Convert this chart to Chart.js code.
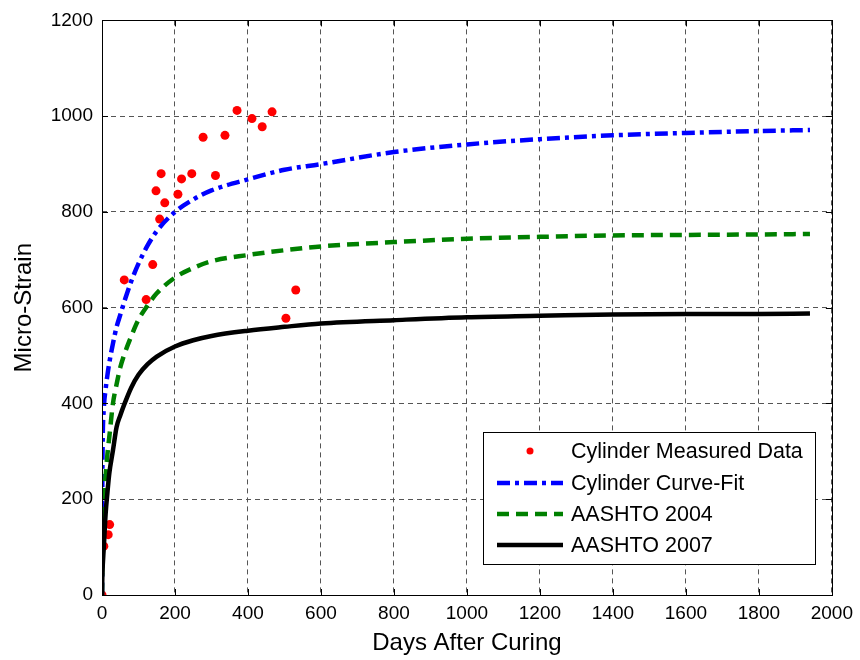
<!DOCTYPE html>
<html>
<head>
<meta charset="utf-8">
<script src="https://cdn.jsdelivr.net/npm/chart.js@4.4.0/dist/chart.umd.min.js"></script>
<style>
  body { margin: 0; background: #fff; }
  canvas { display: block; }
</style>
</head>
<body>
<canvas id="strainChart" width="860" height="660"></canvas>
<script>
// measured cylinder strain (days, micro-strain)
const measuredDays = [0, 2, 5, 17, 21, 61, 121, 139, 148, 158, 162, 172, 208, 218, 246, 277, 311, 337, 370, 411, 439, 466, 504, 531];
const measuredStrain = [0, 182, 102, 126, 147, 658, 617, 690, 844, 785, 880, 819, 837, 869, 880, 956, 876, 960, 1012, 995, 978, 1009, 578, 637];

// curves at these days
const curveDays = [0, 1, 5, 10, 15, 20, 30, 40, 50, 60, 80, 100, 125, 150, 200, 250, 300, 400, 500, 600, 800, 1000, 1200, 1400, 1600, 1800, 1940];
const curveFit = [0, 250, 390, 430, 460, 485, 525, 560, 585, 610, 655, 692, 730, 760, 800, 826, 845, 868, 888, 900, 925, 941, 952, 960, 965, 969, 971];
const aashto2004 = [0, 120, 200, 250, 295, 330, 400, 440, 475, 500, 540, 575, 605, 630, 663, 683, 697, 710, 720, 728, 737, 744, 748, 751, 752, 753, 754];
const aashto2007 = [0, 40, 100, 170, 215, 254, 302, 351, 375, 396, 433, 460, 482, 498, 519, 532, 541, 552, 560, 567, 574, 580, 583, 586, 587, 587, 588];

const xTicks = [0, 200, 400, 600, 800, 1000, 1200, 1400, 1600, 1800, 2000];
const yTicks = [0, 200, 400, 600, 800, 1000, 1200];

const FONT = 'Liberation Sans, Arial, sans-serif';

function toPoints(xs, ys) {
    return xs.map((x, i) => ({ x: x, y: ys[i] }));
}

// frame with inward ticks on all four sides, like matlab
const framePlugin = {
    id: 'frame',
    afterDatasetsDraw(chart) {
        const ctx = chart.ctx;
        const a = chart.chartArea;
        const xs = chart.scales.x;
        const ys = chart.scales.y;
        const len = 6;
        ctx.save();
        ctx.strokeStyle = '#000';
        ctx.lineWidth = 1;
        ctx.beginPath();
        xTicks.forEach(v => {
            const px = Math.round(xs.getPixelForValue(v)) + 0.5;
            ctx.moveTo(px, a.bottom); ctx.lineTo(px, a.bottom - len);
            ctx.moveTo(px, a.top); ctx.lineTo(px, a.top + len);
        });
        yTicks.forEach(v => {
            const py = Math.round(ys.getPixelForValue(v)) + 0.5;
            ctx.moveTo(a.left, py); ctx.lineTo(a.left + len, py);
            ctx.moveTo(a.right, py); ctx.lineTo(a.right - len, py);
        });
        ctx.stroke();
        ctx.strokeRect(Math.round(a.left) + 0.5, Math.round(a.top) + 0.5,
            Math.round(a.right - a.left), Math.round(a.bottom - a.top));
        ctx.restore();
    }
};

// legend box inside the plot, lower right
const legendPlugin = {
    id: 'boxLegend',
    afterDraw(chart) {
        const ctx = chart.ctx;
        const box = { left: 483, top: 432, right: 815, bottom: 564 };
        const rows = [451, 483, 514, 545];
        const sets = chart.data.datasets;
        ctx.save();
        ctx.fillStyle = '#fff';
        ctx.fillRect(box.left, box.top, box.right - box.left, box.bottom - box.top);
        ctx.strokeStyle = '#000';
        ctx.lineWidth = 1;
        ctx.strokeRect(box.left + 0.5, box.top + 0.5, box.right - box.left, box.bottom - box.top);
        sets.forEach((ds, i) => {
            const y = rows[i];
            if (ds.showLine) {
                ctx.strokeStyle = ds.borderColor;
                ctx.lineWidth = ds.borderWidth;
                ctx.setLineDash(ds.borderDash || []);
                ctx.beginPath();
                ctx.moveTo(497, y);
                ctx.lineTo(563, y);
                ctx.stroke();
                ctx.setLineDash([]);
            } else {
                ctx.fillStyle = ds.backgroundColor;
                ctx.beginPath();
                ctx.arc(530, y, 3.5, 0, Math.PI * 2);
                ctx.fill();
            }
            ctx.fillStyle = '#000';
            ctx.font = '21.5px ' + FONT;
            ctx.textBaseline = 'middle';
            ctx.textAlign = 'left';
            ctx.fillText(ds.label, 571, y + 1);
        });
        ctx.restore();
    }
};

const ctx = document.getElementById('strainChart').getContext('2d');

new Chart(ctx, {
    type: 'scatter',
    data: {
        datasets: [
            {
                label: 'Cylinder Measured Data',
                data: toPoints(measuredDays, measuredStrain),
                showLine: false,
                backgroundColor: '#ff0000',
                borderWidth: 0,
                pointRadius: 4.5,
                order: 4
            },
            {
                label: 'Cylinder Curve-Fit',
                data: toPoints(curveDays, curveFit),
                showLine: true,
                borderColor: '#0000ff',
                borderWidth: 4.5,
                borderDash: [13, 5, 4, 5],
                pointRadius: 0,
                cubicInterpolationMode: 'monotone',
                order: 3
            },
            {
                label: 'AASHTO 2004',
                data: toPoints(curveDays, aashto2004),
                showLine: true,
                borderColor: '#008000',
                borderWidth: 4.5,
                borderDash: [12, 7],
                pointRadius: 0,
                cubicInterpolationMode: 'monotone',
                order: 2
            },
            {
                label: 'AASHTO 2007',
                data: toPoints(curveDays, aashto2007),
                showLine: true,
                borderColor: '#000000',
                borderWidth: 4.5,
                pointRadius: 0,
                cubicInterpolationMode: 'monotone',
                order: 1
            }
        ]
    },
    options: {
        responsive: false,
        animation: false,
        layout: { padding: { left: 0, top: 19, right: 28, bottom: 0 } },
        plugins: {
            legend: { display: false },
            tooltip: { enabled: false }
        },
        scales: {
            x: {
                type: 'linear',
                min: 0,
                max: 2000,
                afterBuildTicks: axis => { axis.ticks = xTicks.map(v => ({ value: v })); },
                afterFit: axis => { axis.height = 65; },
                grid: {
                    color: '#555',
                    lineWidth: 1,
                    drawTicks: false
                },
                border: { display: false, dash: [5, 4] },
                ticks: {
                    color: '#000',
                    padding: 7,
                    maxRotation: 0,
                    font: { family: FONT, size: 19 },
                    callback: v => String(v)
                },
                title: {
                    display: true,
                    text: 'Days After Curing',
                    color: '#000',
                    padding: { top: 0, bottom: 2 },
                    font: { family: FONT, size: 24 }
                }
            },
            y: {
                type: 'linear',
                min: 0,
                max: 1200,
                afterBuildTicks: axis => { axis.ticks = yTicks.map(v => ({ value: v })); },
                afterFit: axis => { axis.width = 102; },
                grid: {
                    color: '#555',
                    lineWidth: 1,
                    drawTicks: false
                },
                border: { display: false, dash: [5, 4] },
                ticks: {
                    color: '#000',
                    padding: 9,
                    font: { family: FONT, size: 19 },
                    callback: v => String(v)
                },
                title: {
                    display: true,
                    text: 'Micro-Strain',
                    color: '#000',
                    padding: { top: 10, bottom: 0 },
                    font: { family: FONT, size: 24 }
                }
            }
        }
    },
    plugins: [framePlugin, legendPlugin]
});
</script>
</body>
</html>
